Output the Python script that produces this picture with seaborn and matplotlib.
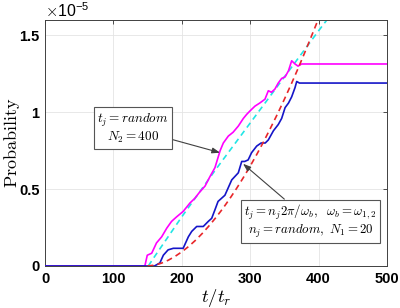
import numpy as np
import pandas as pd
import seaborn as sns
import matplotlib
matplotlib.use("Agg")
import matplotlib.pyplot as plt

# ---- data (probability in units of 1e-5) ----
mag_t = [0, 146, 149.5, 156, 163, 170.6, 178, 185, 192.5, 202, 212, 219, 226,
         234, 241, 248.5, 256, 260.7, 268, 275, 282.6, 290, 295, 300, 307, 314,
         321.6, 326.5, 331, 336, 341, 346, 351, 356, 360.6, 365.5, 370, 375, 500]
mag_v = [0, 0, 0.07, 0.083, 0.15, 0.19, 0.246, 0.29, 0.32, 0.355, 0.41, 0.44, 0.48,
         0.52, 0.58, 0.64, 0.75, 0.80, 0.845, 0.87, 0.91, 0.96, 0.987, 1.01, 1.04, 1.06,
         1.085, 1.14, 1.13, 1.15, 1.19, 1.22, 1.23, 1.27, 1.335, 1.314, 1.30, 1.314, 1.314]

blue_t = [0, 160, 168, 173, 180, 187.6, 202, 209.6, 214.5, 221.8, 231.4, 238.7,
          243.7, 248.5, 253, 258, 263, 268, 273, 282.6, 287.6, 292, 297, 302,
          309.5, 316, 322, 326.5, 334, 341, 346, 351, 356, 360.6, 365.5, 368, 372, 500]
blue_v = [0, 0, 0.02, 0.07, 0.105, 0.115, 0.115, 0.19, 0.225, 0.257, 0.257, 0.29,
          0.31, 0.366, 0.42, 0.44, 0.46, 0.51, 0.56, 0.606, 0.68, 0.68, 0.69, 0.737,
          0.78, 0.80, 0.80, 0.82, 0.88, 0.92, 0.96, 1.03, 1.06, 1.10, 1.16, 1.20, 1.19, 1.19]

cyan_t = [151, 160, 200, 250, 300, 350, 400, 412, 420]
cyan_v = [0, 0.06, 0.32, 0.63, 0.93, 1.23, 1.53, 1.60, 1.65]

red_t = [150, 160, 170, 180, 190, 200, 210, 220, 230, 240, 250, 260, 270, 280,
         290, 300, 310, 320, 330, 340, 350, 360, 370, 380, 390, 400, 410]
red_v = [0, 0.005, 0.018, 0.037, 0.062, 0.092, 0.127, 0.167, 0.212, 0.262, 0.316,
         0.374, 0.437, 0.504, 0.575, 0.65, 0.729, 0.812, 0.90, 0.99, 1.085, 1.183,
         1.285, 1.391, 1.50, 1.61, 1.72]

x_ticks = [0, 100, 200, 300, 400, 500]
x_tick_labels = ["0", "100", "200", "300", "400", "500"]
y_ticks = [0, 0.5, 1, 1.5]
y_tick_labels = ["0", "0.5", "1", "1.5"]

box1_text = r"$t_j = random$" + "\n" + r"$N_2 = 400$"
box2_text = (r"$t_j = n_j 2\pi/\omega_b,\ \ \omega_b = \omega_{1,2}$" + "\n"
             + r"$n_j = random,\ N_1 = 20$")

# ---- style ----
sns.set_style("white")
plt.rcParams["mathtext.fontset"] = "cm"
plt.rcParams["font.family"] = ["Liberation Sans", "DejaVu Sans"]
plt.rcParams["font.weight"] = "bold"
plt.rcParams["text.color"] = "black"
plt.rcParams["axes.labelcolor"] = "black"
plt.rcParams["xtick.color"] = "black"
plt.rcParams["ytick.color"] = "black"

fig = plt.figure(figsize=(4.0, 3.08), dpi=100)
ax = fig.add_axes([0.1125, 0.1364, 0.855, 0.7986])

sns.lineplot(x=mag_t, y=mag_v, ax=ax, color="#ff00ff", lw=1.2, zorder=3)
sns.lineplot(x=cyan_t, y=cyan_v, ax=ax, color="#22e5e5", lw=1.2, zorder=2,
             linestyle=(0, (3.5, 2.5)))
sns.lineplot(x=blue_t, y=blue_v, ax=ax, color="#1515c8", lw=1.2, zorder=3)
sns.lineplot(x=red_t, y=red_v, ax=ax, color="#e8262a", lw=1.2, zorder=4,
             linestyle=(0, (3.5, 2.5)))

ax.set_xlim(0, 500)
ax.set_ylim(0, 1.6)
ax.set_xticks(x_ticks, labels=x_tick_labels, fontweight="bold", fontsize=10.5,
              color="black")
ax.set_yticks(y_ticks, labels=y_tick_labels, fontweight="bold", fontsize=10.5,
              color="black")
ax.tick_params(direction="in", length=3, width=0.6, top=True, right=True,
               pad=4, color="#333333")
ax.grid(True, color="#e4e4e4", lw=0.6)
for s in ax.spines.values():
    s.set_linewidth(0.7)
    s.set_color("#404040")

ax.set_xlabel(r"$t/t_r$", fontsize=13.5, labelpad=1, color="black")
ax.set_ylabel(r"$\mathrm{Probability}$", fontsize=13, color="black")
ax.yaxis.set_label_coords(-0.068, 0.5)

ax.text(0.0, 1.0, r"$\times\mathregular{10^{-5}}$", transform=ax.transAxes,
        fontsize=11.5, fontweight="normal", ha="left", va="bottom", color="black")

bbox_kw = dict(boxstyle="square,pad=0.25", fc="white", ec="#555555", lw=0.8)
arrow_kw = dict(arrowstyle="-|>,head_length=0.5,head_width=0.18", color="#404040",
                lw=0.8, shrinkA=0, shrinkB=0)
ax.annotate(box1_text, xy=(256, 0.737), xytext=(128.5, 0.893),
            ha="center", va="center", fontsize=9.5, linespacing=1.1, color="black",
            bbox=bbox_kw, arrowprops=arrow_kw, zorder=6)
ax.annotate(box2_text, xy=(289.5, 0.665), xytext=(388, 0.29),
            ha="center", va="center", fontsize=9.3, linespacing=1.1, color="black",
            bbox=bbox_kw, arrowprops=arrow_kw, zorder=6)

fig.savefig("out.png", dpi=100)
